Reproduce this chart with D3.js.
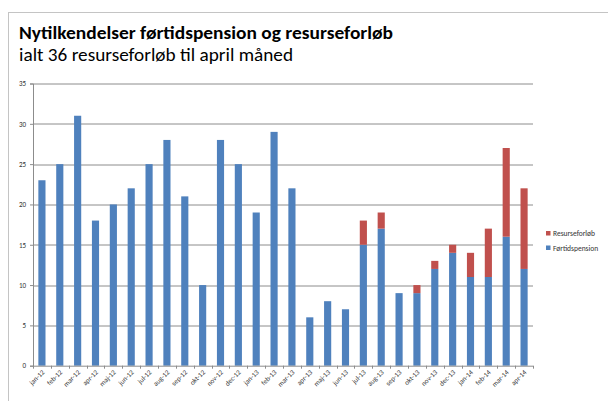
<!DOCTYPE html>
<html>
<head>
<meta charset="utf-8">
<script src="https://cdn.jsdelivr.net/npm/d3@7"></script>
<style>
  body { margin: 0; background: #fff; }
  text { font-family: Carlito, 'Liberation Sans', sans-serif; }
</style>
</head>
<body>
<svg class="chart"></svg>
<script>
var months = ['jan-12','feb-12','mar-12','apr-12','maj-12','jun-12','jul-12','aug-12','sep-12','okt-12','nov-12','dec-12',
  'jan-13','feb-13','mar-13','apr-13','maj-13','jun-13','jul-13','aug-13','sep-13','okt-13','nov-13','dec-13',
  'jan-14','feb-14','mar-14','apr-14'];
var fortid = [23,25,31,18,20,22,25,28,21,10,28,25,19,29,22,6,8,7,15,17,9,9,12,14,11,11,16,12];
var resurs = [0,0,0,0,0,0,0,0,0,0,0,0,0,0,0,0,0,0,3,2,0,1,1,1,3,6,11,10];
var yTicks = [0,5,10,15,20,25,30,35];
var seriesNames = ['Førtidspension','Resurseforløb'];
var colors = ['#4f81bd','#c0504d'];

var margin = {top: 83.5, left: 33};
var width = 500;
var height = 282.2;

var svg = d3.select('.chart').attr('width', 608).attr('height', 401);

// frame
svg.append('rect')
  .attr('x', 8.5).attr('y', 12.5).attr('width', 700).attr('height', 500)
  .attr('fill', 'none').attr('stroke', '#c4c4c4').attr('stroke-width', 1);

svg.append('text')
  .attr('x', 19).attr('y', 38.5)
  .attr('font-size', 18).attr('font-weight', 'bold')
  .attr('textLength', 374).attr('lengthAdjust', 'spacingAndGlyphs')
  .text('Nytilkendelser førtidspension og resurseforløb');

svg.append('text')
  .attr('x', 19).attr('y', 61)
  .attr('font-size', 18)
  .attr('textLength', 274).attr('lengthAdjust', 'spacingAndGlyphs')
  .text('ialt 36 resurseforløb til april måned');

var x = d3.scaleBand().domain(months).range([0, width]).paddingInner(0.6).paddingOuter(0.3);
var y = d3.scaleLinear().domain([0, 35]).range([height, 0]);

var chart = svg.append('g')
  .attr('transform', 'translate(' + margin.left + ',' + margin.top + ')');

// gridlines
chart.selectAll('.grid')
  .data(yTicks.filter(d => d > 0))
  .enter().append('line')
  .attr('x1', 0).attr('x2', width)
  .attr('y1', d => Math.round(y(d)) + 0.5).attr('y2', d => Math.round(y(d)) + 0.5)
  .attr('stroke', '#8c8c8c').attr('stroke-width', 1);

// Y axis
var yAxis = d3.axisLeft(y).tickValues(yTicks).tickSize(3).tickPadding(4);
var yg = chart.append('g').attr('class', 'y axis').call(yAxis);
yg.select('.domain').attr('stroke', '#8c8c8c');
yg.selectAll('.tick line').attr('stroke', '#8c8c8c');
yg.selectAll('text').attr('font-size', 7).attr('fill', '#333');

// bars
var data = months.map((m, i) => ({month: m, 'Førtidspension': fortid[i], 'Resurseforløb': resurs[i]}));
var stacked = d3.stack().keys(seriesNames)(data);

chart.selectAll('.series')
  .data(stacked)
  .enter().append('g')
  .attr('fill', (d, i) => colors[i])
  .selectAll('rect')
  .data(d => d.filter(v => v[1] > v[0]))
  .enter().append('rect')
  .attr('x', d => x(d.data.month))
  .attr('y', d => y(d[1]))
  .attr('width', x.bandwidth())
  .attr('height', d => y(d[0]) - y(d[1]));

// X axis
var xg = chart.append('g').attr('class', 'x axis')
  .attr('transform', 'translate(0,' + height + ')');
xg.append('line').attr('x1', 0).attr('x2', width).attr('y1', 0.5).attr('y2', 0.5)
  .attr('stroke', '#8c8c8c');
xg.selectAll('.xtick')
  .data(d3.range(months.length + 1))
  .enter().append('line')
  .attr('x1', i => Math.round(i * width / months.length) + 0.5)
  .attr('x2', i => Math.round(i * width / months.length) + 0.5)
  .attr('y1', 0).attr('y2', 3)
  .attr('stroke', '#8c8c8c');
xg.selectAll('.xlabel')
  .data(months)
  .enter().append('text')
  .attr('font-size', 7).attr('fill', '#333')
  .attr('text-anchor', 'end')
  .attr('transform', d => 'translate(' + (x(d) + x.bandwidth() / 2 + 3) + ',7) rotate(-45)')
  .text(d => d);

// legend
var legend = svg.append('g').attr('transform', 'translate(546,231)');
var legendItems = [1, 0];
legendItems.forEach((s, i) => {
  legend.append('rect')
    .attr('x', 0).attr('y', i * 14.5).attr('width', 4.5).attr('height', 4.5)
    .attr('fill', colors[s]);
  legend.append('text')
    .attr('x', 7).attr('y', i * 14.5 + 5)
    .attr('font-size', 7.5).attr('fill', '#333')
    .text(seriesNames[s]);
});
</script>
</body>
</html>
